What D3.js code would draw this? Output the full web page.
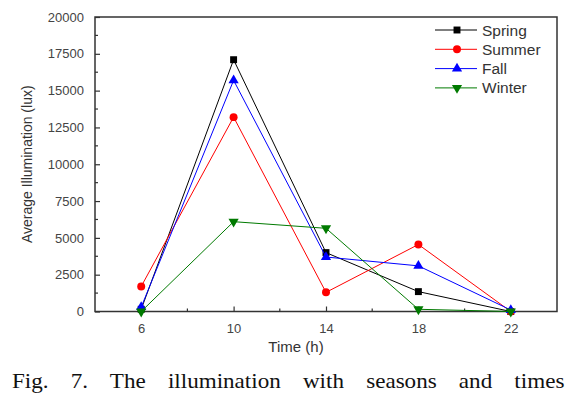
<!DOCTYPE html>
<html><head><meta charset="utf-8">
<script src="https://cdn.jsdelivr.net/npm/d3@7"></script>
<style>body{margin:0;background:#fff}svg{display:block}</style>
</head><body>
<svg id="c" width="577" height="406"></svg>
<script>
const hours = [6, 10, 14, 18, 22];
const spring = [150, 17100, 4000, 1350, 0];
const summer = [1700, 13200, 1300, 4550, 0];
const fall   = [300, 15700, 3700, 3100, 100];
const winter = [0, 6100, 5650, 150, 0];
const seriesNames = ["Spring", "Summer", "Fall", "Winter"];
const seriesColors = ["#000000", "#ff0000", "#0000ff", "#007a00"];
const seriesShapes = ["square", "circle", "triangle", "down"];
const yTicks = [0, 2500, 5000, 7500, 10000, 12500, 15000, 17500, 20000];
const xTicks = [6, 10, 14, 18, 22];

const svg = d3.select("#c");
const L = 95, R = 557, T = 17, B = 311.5;
const x = d3.scaleLinear().domain([4, 24]).range([L, R]);
const y = d3.scaleLinear().domain([0, 20000]).range([B, T]);

const data = [spring, summer, fall, winter];

// frame
svg.append("rect").attr("x", L).attr("y", T).attr("width", R - L).attr("height", B - T)
  .attr("fill", "none").attr("stroke", "#333").attr("stroke-width", 1.5);

// y axis
const yAx = svg.append("g").attr("transform", `translate(${L},0)`)
  .call(d3.axisLeft(y).tickValues(yTicks).tickSize(-5).tickPadding(11).tickFormat(d3.format("d")));
yAx.select(".domain").remove();
yAx.selectAll("line").attr("stroke", "#333").attr("stroke-width", 1.2);
yAx.selectAll("text").attr("font-family", "Liberation Sans, Arial, sans-serif").attr("font-size", 13).attr("fill", "#444");
// minor
const yMinor = d3.range(1250, 20000, 2500);
svg.append("g").selectAll("line").data(yMinor).join("line")
  .attr("x1", L).attr("x2", L + 3).attr("y1", d => y(d)).attr("y2", d => y(d))
  .attr("stroke", "#333").attr("stroke-width", 1.2);

// x axis
const xAx = svg.append("g").attr("transform", `translate(0,${B})`)
  .call(d3.axisBottom(x).tickValues(xTicks).tickSize(-5).tickPadding(12));
xAx.select(".domain").remove();
xAx.selectAll("line").attr("stroke", "#333").attr("stroke-width", 1.2);
xAx.selectAll("text").attr("font-family", "Liberation Sans, Arial, sans-serif").attr("font-size", 13).attr("fill", "#444");
const xMinor = [8, 12, 16, 20];
svg.append("g").selectAll("line").data(xMinor).join("line")
  .attr("x1", d => x(d)).attr("x2", d => x(d)).attr("y1", B).attr("y2", B - 3)
  .attr("stroke", "#333").attr("stroke-width", 1.2);

// titles
svg.append("text").attr("transform", `translate(32,${(T + B) / 2}) rotate(-90)`)
  .attr("text-anchor", "middle").attr("font-family", "Liberation Sans, Arial, sans-serif")
  .attr("font-size", 14).attr("fill", "#333").text("Average Illumination (lux)");
svg.append("text").attr("x", 296).attr("y", 352).attr("text-anchor", "middle")
  .attr("font-family", "Liberation Sans, Arial, sans-serif").attr("font-size", 15).attr("fill", "#333").text("Time (h)");

// symbols
function drawMarker(g, shape, cx, cy, color) {
  let sym;
  if (shape === "square") sym = d3.symbol(d3.symbolSquare, 48);
  else if (shape === "circle") sym = d3.symbol(d3.symbolCircle, 50);
  else sym = d3.symbol(d3.symbolTriangle, 45);
  const rot = shape === "down" ? 180 : 0;
  g.append("path").attr("d", sym()).attr("transform", `translate(${cx},${cy}) rotate(${rot})`)
    .attr("fill", color);
}

const line = d3.line().x((d, i) => x(hours[i])).y(d => y(d));
data.forEach((vals, si) => {
  const g = svg.append("g");
  g.append("path").attr("d", line(vals)).attr("fill", "none")
    .attr("stroke", seriesColors[si]).attr("stroke-width", 1);
  vals.forEach((v, i) => drawMarker(g, seriesShapes[si], x(hours[i]), y(v), seriesColors[si]));
});

// legend
const lg = svg.append("g");
seriesNames.forEach((n, i) => {
  const yy = 30 + i * 19.3;
  lg.append("line").attr("x1", 435).attr("x2", 477).attr("y1", yy).attr("y2", yy)
    .attr("stroke", seriesColors[i]).attr("stroke-width", 1);
  drawMarker(lg, seriesShapes[i], 457, yy, seriesColors[i]);
  lg.append("text").attr("x", 482).attr("y", yy + 5.5).attr("font-family", "Liberation Sans, Arial, sans-serif")
    .attr("font-size", 15.5).attr("fill", "#333").text(n);
});

// caption
const sx = 1.1;
const cap = svg.append("text").attr("transform", `translate(12,388) scale(${sx},1)`)
  .attr("font-family", "Liberation Serif, Times New Roman, serif")
  .attr("font-size", 21).attr("fill", "#111")
  .text("Fig. 7. The illumination with seasons and times");
const natural = cap.node().getComputedTextLength();
const extra = Math.max(0, (536 / sx - natural) / 6);
cap.attr("word-spacing", extra);
</script>
</body></html>
